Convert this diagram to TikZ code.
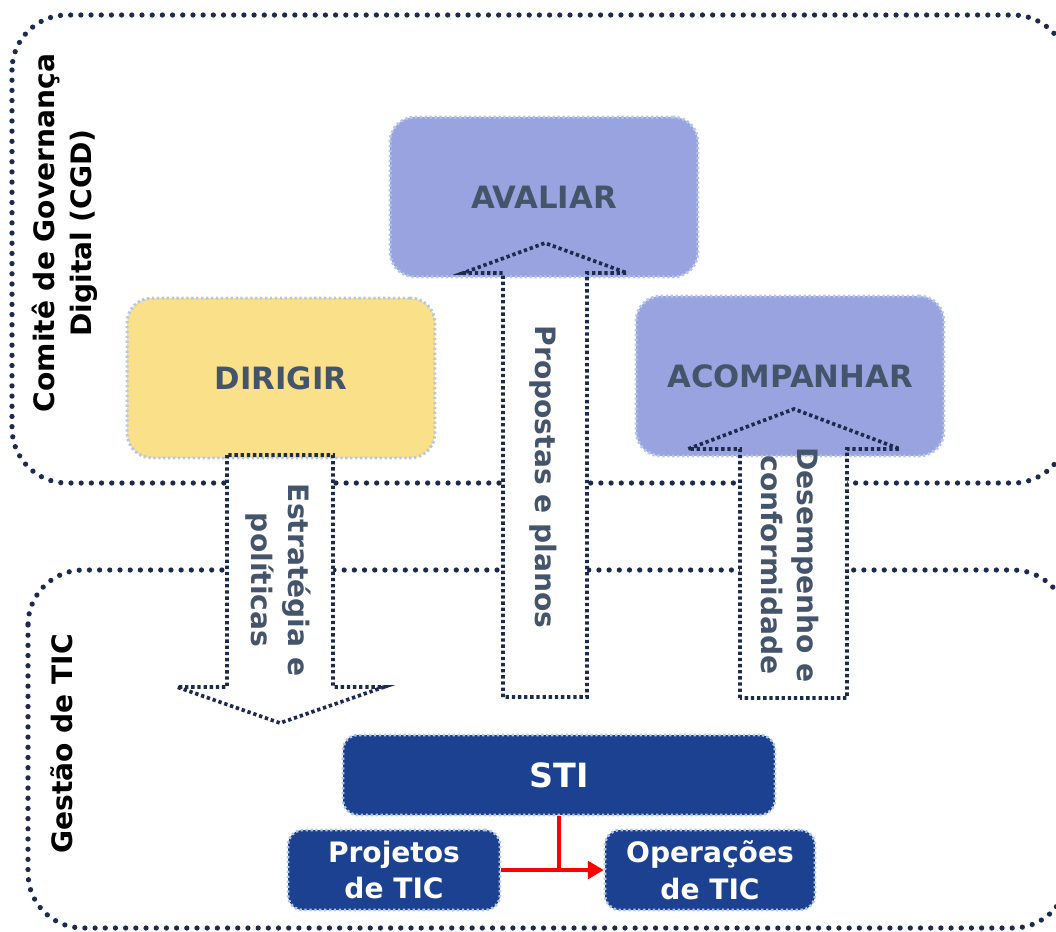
\documentclass[tikz,border=0pt]{standalone}
\usepackage{fontspec}
\setmainfont{DejaVu Sans}
\usetikzlibrary{arrows.meta,positioning,calc}
\definecolor{navydot}{RGB}{28,43,77}
\definecolor{dirigircol}{RGB}{251,224,138}
\definecolor{lavender}{RGB}{153,163,224}
\definecolor{slatetext}{RGB}{68,84,106}
\definecolor{stiblue}{RGB}{27,65,144}
\definecolor{edgeblue}{RGB}{180,199,231}
\tikzset{
    groupframe/.style={navydot, line width=3pt, line cap=round, dash pattern=on 0pt off 5.8pt, rounded corners=1.1cm},
    govbox/.style={draw=edgeblue, line width=1.7pt, dash pattern=on 1.3pt off 1.5pt, rounded corners=0.5cm,
        minimum width=6.16cm, minimum height=3.2cm, text=slatetext, font=\fontsize{17.5}{20}\selectfont\bfseries},
    tibox/.style={draw=edgeblue, fill=stiblue, line width=1.5pt, dash pattern=on 1.3pt off 1.5pt, rounded corners=0.3cm,
        minimum height=1.6cm, text=white, align=center, font=\fontsize{16}{21}\selectfont\bfseries},
    blockarrow/.style={navydot, line width=2.1pt, dash pattern=on 1.9pt off 1.6pt},
    arrowtext/.style={text=slatetext, align=center, rotate=-90, font=\fontsize{16}{21}\selectfont\bfseries},
    sidelabel/.style={align=center, rotate=90, font=\fontsize{16}{21}\selectfont\bfseries},
    redline/.style={red, line width=2.2pt}
}
% block arrow outlines
\def\arrowestrategia{(227,455) -- (227,687) -- (177,687) -- (280,723) -- (384,687) -- (333,687) -- (333,455) -- cycle}
\def\arrowpropostas{(503,697) -- (503,273) -- (463,273) -- (545,243) -- (627,273) -- (587,273) -- (587,697) -- cycle}
\def\arrowdesempenho{(740,698) -- (740,449) -- (688,449) -- (794,409) -- (900,449) -- (847,449) -- (847,698) -- cycle}

\begin{document}
\begin{tikzpicture}[x=0.02cm, y=-0.02cm]
    \useasboundingbox (0,0) rectangle (1056,931);
    \clip (0,0) rectangle (1056,931);

    % dotted frames
    \draw[groupframe] (12,15) rectangle (1068,483);
    \draw[groupframe] (28,570) rectangle (1068,928);

    % arrow bodies
    \fill[white] \arrowestrategia;
    \fill[white] \arrowpropostas;
    \fill[white] \arrowdesempenho;

    % boxes
    \node[govbox, fill=dirigircol] (dirigir) at (281,378) {DIRIGIR};
    \node[govbox, fill=lavender] (avaliar) at (544,197) {AVALIAR};
    \node[govbox, fill=lavender] (acompanhar) at (790,376) {ACOMPANHAR};

    \draw[blockarrow] \arrowestrategia;
    \draw[blockarrow] \arrowpropostas;
    \draw[blockarrow] \arrowdesempenho;

    \node[arrowtext] (estrategia) at (278,580) {Estratégia e\\políticas};
    \node[arrowtext] (propostas) at (543,477) {Propostas e planos};
    \node[arrowtext] (desempenho) at (790,565) {Desempenho e\\conformidade};

    % TIC units
    \node[tibox, minimum width=8.64cm, font=\fontsize{19}{21}\selectfont\bfseries] (sti) at (559,775) {STI};
    \node[tibox, minimum width=4.24cm] (projetos) at (394,870) {Projetos\\de TIC};
    \node[tibox, minimum width=4.2cm] (operacoes) at (710,870) {Operações\\de TIC};

    \draw[redline, -{Triangle[length=9pt,width=10pt]}] (projetos.east) -- (operacoes.west);
    \draw[redline] (sti.south) -- (sti.south |- projetos.east);

    % side labels
    \node[sidelabel] (cgd) at (65,233) {Comitê de Governança\\Digital (CGD)};
    \node[sidelabel] (gestao) at (62,744) {Gestão de TIC};
\end{tikzpicture}
\end{document}
